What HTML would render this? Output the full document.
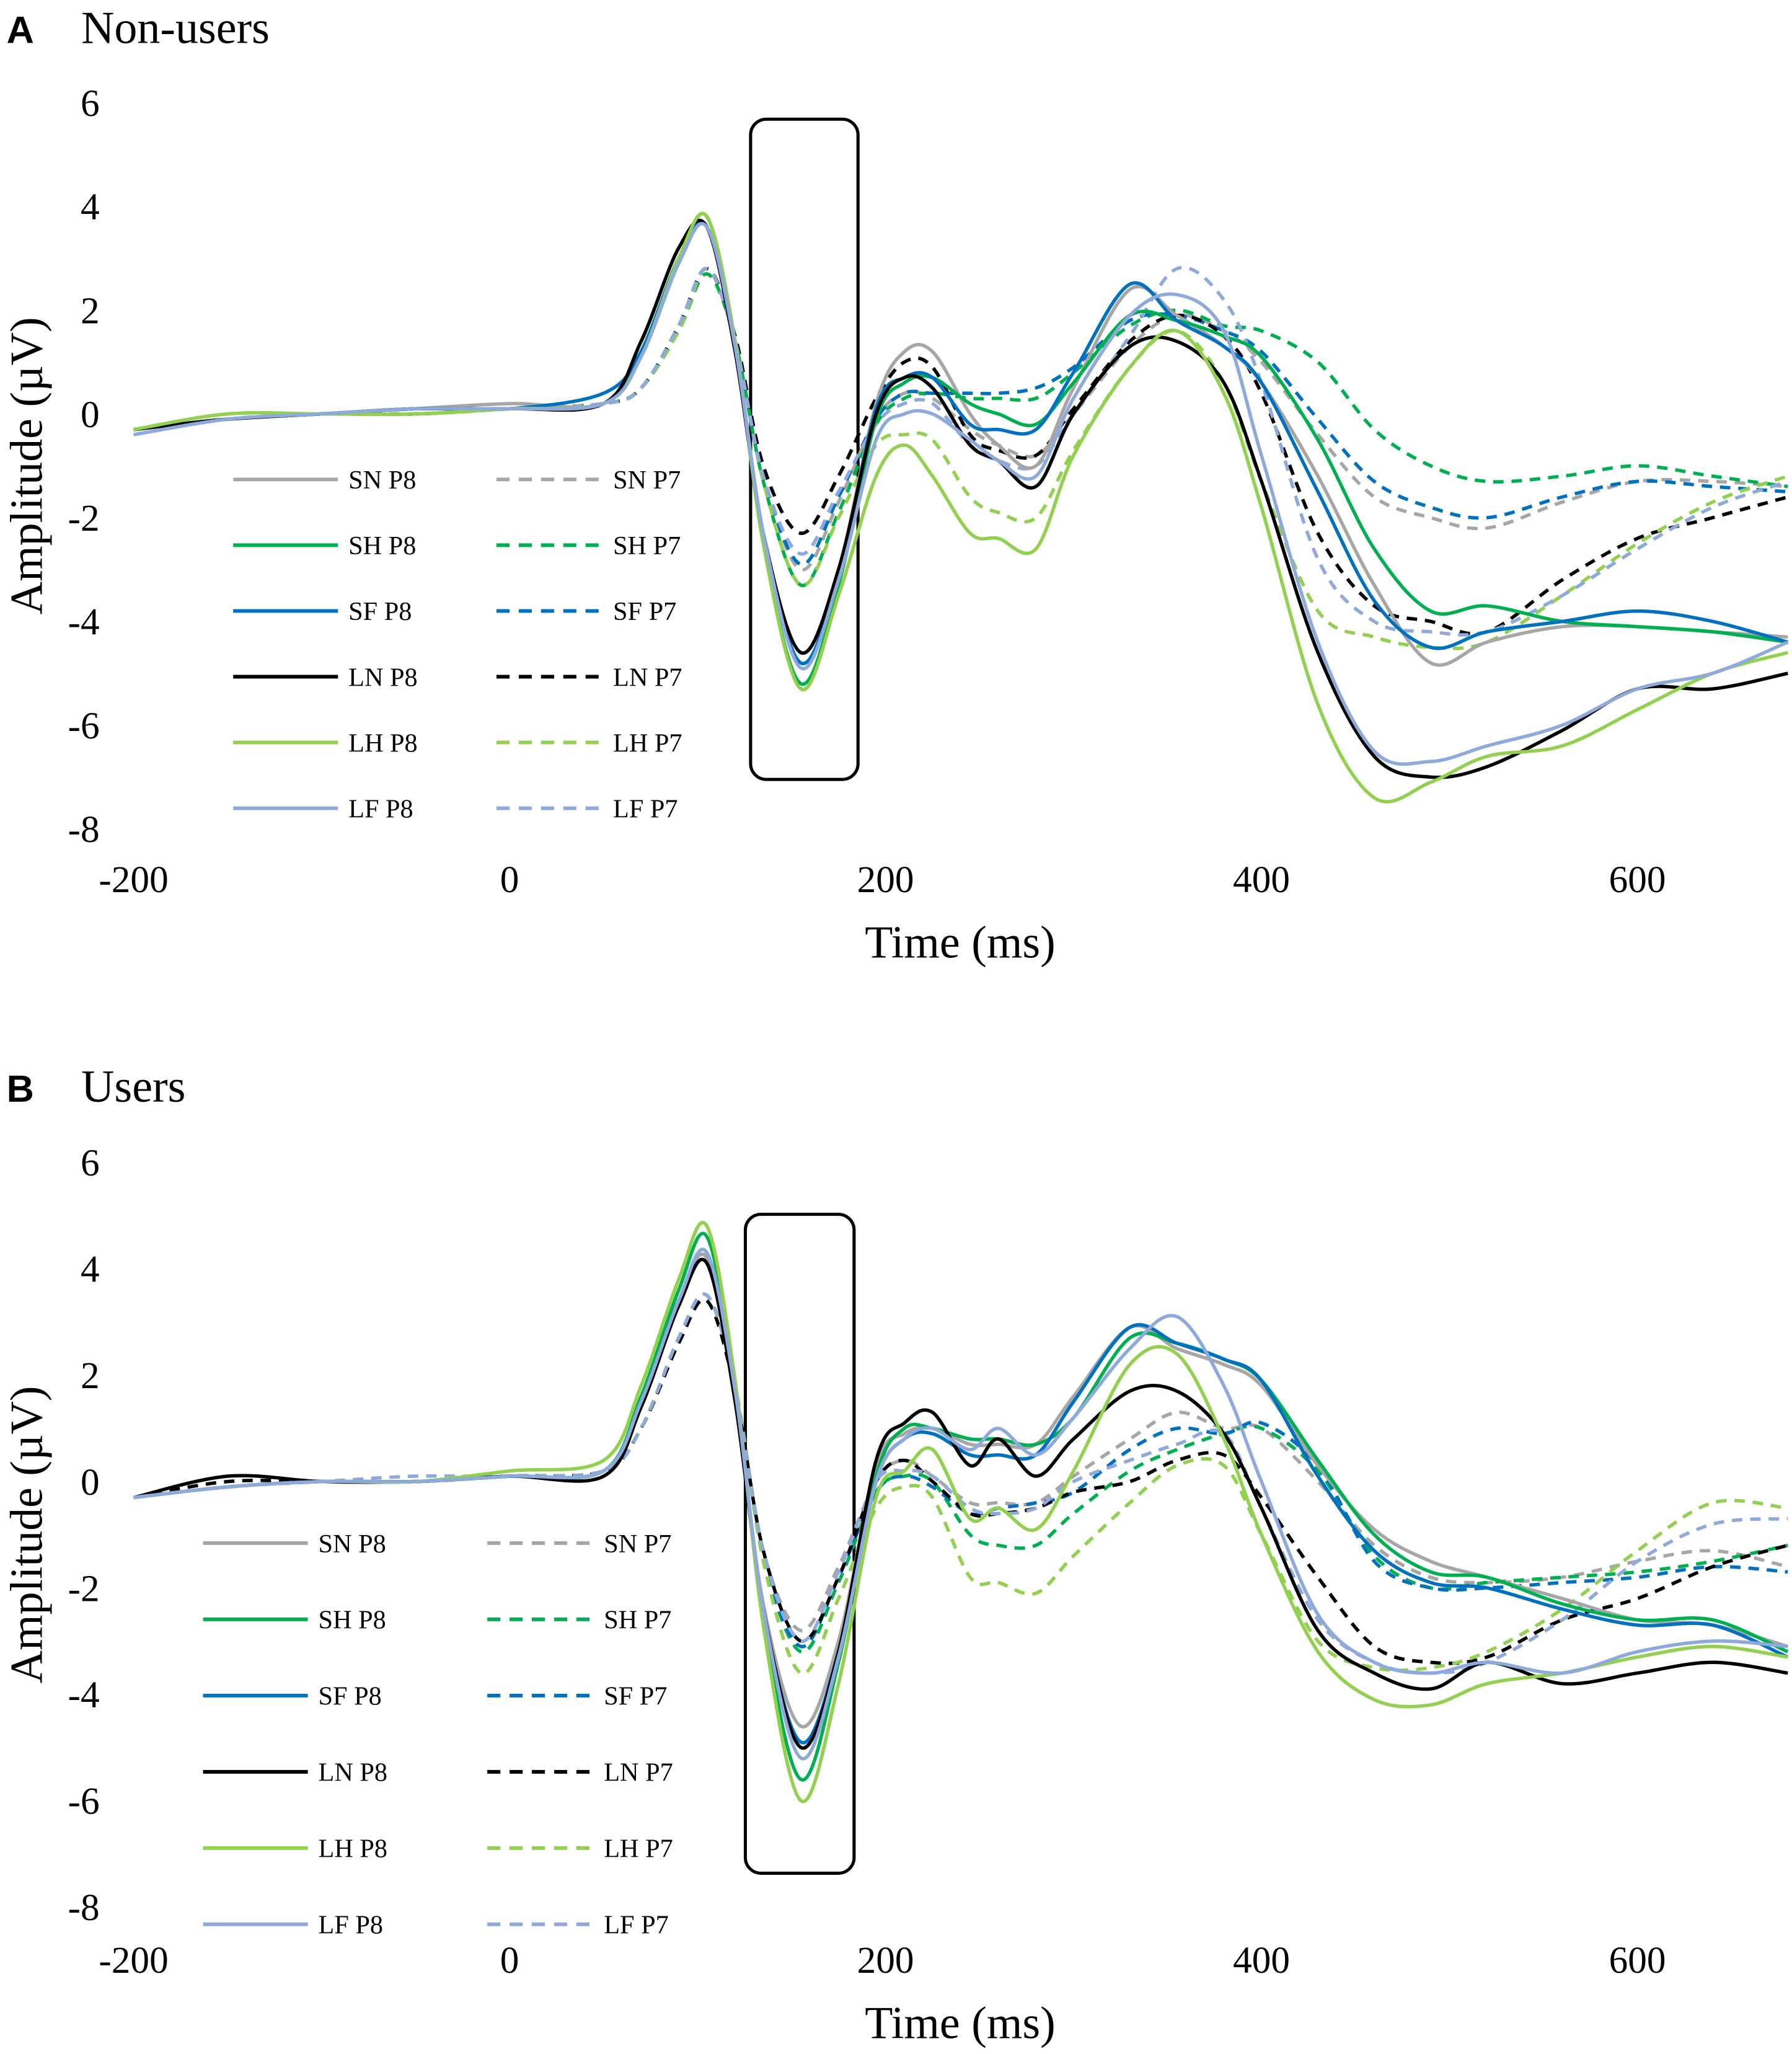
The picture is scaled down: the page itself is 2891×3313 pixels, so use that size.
<!DOCTYPE html>
<html><head><meta charset="utf-8"><style>
html,body{margin:0;padding:0;background:#fff}
svg{display:block}
text{font-family:"Liberation Serif",serif;fill:#000}
</style></head><body>
<svg id="fig" xmlns="http://www.w3.org/2000/svg" width="2891" height="3313" viewBox="0 0 1368 1568" preserveAspectRatio="none">
<g id="panelA"></g>
<g id="panelB"></g>
</svg>
<script>
const times = [-200,-150,-100,-50,0,50,70,90,105,120,135,155,175,195,210,225,245,260,280,300,330,355,380,400,430,460,490,520,560,600,640,680];
const xTicks = [-200,0,200,400,600];
const yTicks = [6,4,2,0,-2,-4,-6,-8];
const seriesNames = ["SN","SH","SF","LN","LH","LF"];
const seriesColors = ["#a6a6a6","#00b050","#0070c0","#000000","#92d050","#8eaadb"];

const aP8_SN = [-0.3,-0.1,0,0.1,0.2,0.2,1.2,3.0,3.6,1.3,-2.3,-4.6,-3.0,0.2,1.2,1.2,0.0,-0.6,-1.0,0.5,2.4,1.9,1.3,0.6,-1.2,-3.3,-4.8,-4.4,-4.1,-4.1,-4.2,-4.3];
const aP8_SH = [-0.3,-0.1,0,0.1,0.1,0.2,1.2,3.0,3.8,1.4,-2.5,-5.2,-3.3,-0.1,0.6,0.7,0.2,0.0,-0.2,0.6,1.9,1.8,1.5,1.1,-0.5,-2.6,-3.8,-3.7,-4.0,-4.1,-4.2,-4.4];
const aP8_SF = [-0.3,-0.1,0,0.1,0.1,0.4,1.2,3.0,3.6,1.3,-2.3,-4.8,-3.1,0.1,0.7,0.7,-0.2,-0.3,-0.3,0.8,2.5,1.8,1.3,0.6,-1.5,-3.6,-4.5,-4.2,-4.0,-3.8,-4.0,-4.4];
const aP8_LN = [-0.3,-0.1,0,0.1,0.1,0.2,1.4,3.2,3.6,1.2,-2.3,-4.6,-3.0,0.0,0.7,0.5,-0.6,-0.9,-1.4,0.0,1.3,1.4,0.6,-1.3,-4.6,-6.6,-7.0,-6.8,-6.1,-5.3,-5.3,-5.0];
const aP8_LH = [-0.3,0,0,0,0.1,0.2,1.1,3.0,3.8,1.4,-2.5,-5.3,-3.5,-1.2,-0.6,-1.2,-2.3,-2.4,-2.6,-0.8,0.9,1.6,0.4,-1.8,-5.6,-7.4,-7.1,-6.6,-6.4,-5.7,-5.0,-4.6];
const aP8_LF = [-0.4,-0.1,0,0.1,0.1,0.2,1.1,2.9,3.6,1.3,-2.3,-4.9,-3.2,-0.5,0.0,0.0,-0.5,-0.9,-1.2,0.3,1.9,2.3,1.6,-0.8,-4.4,-6.5,-6.7,-6.4,-6.0,-5.3,-5.0,-4.4];
const aP7_SN = [-0.3,-0.1,0,0,0.1,0.2,0.5,1.7,2.8,1.4,-1.2,-3.0,-1.7,-0.1,0.4,0.3,-0.3,-0.6,-0.8,0.0,1.3,1.9,1.6,1.0,-0.4,-1.6,-2.0,-2.2,-1.7,-1.3,-1.3,-1.4];
const aP7_SH = [-0.3,-0.1,0,0,0.1,0.2,0.5,1.6,2.7,1.4,-1.3,-3.3,-1.9,-0.2,0.3,0.4,0.3,0.3,0.3,0.8,1.7,2.0,1.7,1.6,1.0,-0.3,-1.0,-1.3,-1.2,-1.0,-1.2,-1.4];
const aP7_SF = [-0.3,-0.1,0,0,0.1,0.2,0.5,1.7,2.8,1.4,-1.2,-2.9,-1.6,-0.1,0.4,0.4,0.4,0.4,0.5,0.9,1.8,1.9,1.6,1.2,-0.1,-1.3,-1.8,-2.0,-1.6,-1.3,-1.4,-1.5];
const aP7_LN = [-0.3,-0.1,0,0,0.1,0.2,0.5,1.7,2.8,1.5,-1.0,-2.3,-1.2,0.3,1.0,0.9,-0.4,-0.7,-0.8,0.1,1.4,1.9,1.5,0.4,-2.3,-3.7,-4.0,-4.2,-3.2,-2.4,-2.0,-1.6];
const aP7_LH = [-0.3,0,0,0,0.1,0.2,0.5,1.6,2.8,1.4,-1.3,-3.3,-2.0,-0.6,-0.4,-0.5,-1.6,-1.9,-2.0,-0.7,0.9,1.6,0.6,-1.3,-3.8,-4.3,-4.5,-4.4,-3.5,-2.5,-1.7,-1.2];
const aP7_LF = [-0.4,-0.1,0,0,0.1,0.2,0.5,1.7,2.8,1.4,-1.2,-2.7,-1.5,-0.2,0.2,0.2,-0.6,-0.9,-1.0,0.0,1.5,2.8,2.2,0.6,-2.8,-4.0,-4.2,-4.2,-3.5,-2.6,-1.8,-1.3];

const bP8_SN = [-0.3,-0.1,0,0,0.1,0.2,1.5,3.4,4.2,1.6,-2.3,-4.6,-3.0,0.3,0.9,1.0,0.7,0.7,0.7,1.6,2.9,2.5,2.2,1.8,0.3,-0.9,-1.5,-1.8,-2.2,-2.6,-2.7,-3.1];
const bP8_SH = [-0.3,-0.1,0,0,0.1,0.2,1.6,3.6,4.6,1.8,-2.6,-5.6,-3.4,0.1,1.0,1.0,0.8,0.8,0.7,1.2,2.7,2.6,2.3,1.9,0.4,-1.0,-1.7,-1.8,-2.3,-2.6,-2.6,-3.2];
const bP8_SF = [-0.3,-0.1,0,0,0.1,0.2,1.5,3.4,4.3,1.7,-2.4,-4.9,-3.2,0.0,0.8,0.9,0.5,0.5,0.5,1.5,2.9,2.6,2.3,1.9,0.1,-1.3,-1.9,-2.0,-2.4,-2.7,-2.7,-3.3];
const bP8_LN = [-0.3,0.1,0,0,0.1,0.1,1.4,3.3,4.1,1.5,-2.4,-5.0,-3.2,0.4,1.1,1.3,0.3,0.8,0.1,0.8,1.7,1.7,0.9,-0.5,-2.8,-3.6,-3.9,-3.4,-3.8,-3.6,-3.4,-3.6];
const bP8_LH = [-0.3,-0.1,0,0,0.2,0.4,1.8,3.8,4.8,1.9,-2.7,-6.0,-3.8,-0.3,0.2,0.6,-0.7,-0.5,-0.9,0.2,2.2,2.4,0.8,-1.0,-3.2,-4.1,-4.2,-3.8,-3.6,-3.3,-3.1,-3.3];
const bP8_LF = [-0.3,-0.1,0,0,0.1,0.2,1.5,3.4,4.3,1.7,-2.4,-5.2,-3.3,0.0,0.8,1.0,0.6,1.0,0.5,1.2,2.5,3.1,1.8,0.0,-2.5,-3.4,-3.6,-3.4,-3.6,-3.2,-3.0,-3.1];
const bP7_SN = [-0.3,-0.1,0,0,0.1,0.2,1.0,2.7,3.5,1.8,-1.3,-2.8,-1.6,0.0,0.4,0.1,-0.4,-0.4,-0.4,0.1,0.8,1.3,1.0,1.0,0.0,-1.2,-1.8,-1.9,-1.8,-1.5,-1.3,-1.6];
const bP7_SH = [-0.3,-0.1,0,0,0.1,0.2,1.0,2.7,3.5,1.8,-1.4,-3.2,-1.9,-0.2,0.1,0.0,-1.0,-1.2,-1.2,-0.6,0.2,0.6,0.9,1.0,0.2,-1.4,-2.0,-1.9,-1.8,-1.7,-1.5,-1.2];
const bP7_SF = [-0.3,-0.1,0,0,0.1,0.2,1.0,2.7,3.5,1.8,-1.4,-3.1,-1.8,-0.2,0.1,-0.1,-0.6,-0.5,-0.4,-0.2,0.6,1.0,0.9,1.1,0.3,-1.5,-2.0,-2.0,-1.9,-1.8,-1.6,-1.7];
const bP7_LN = [-0.3,0,0,0,0.1,0.2,1.0,2.6,3.4,1.7,-1.3,-3.0,-1.8,0.0,0.4,0.0,-0.6,-0.6,-0.5,-0.2,0.0,0.4,0.5,-0.3,-1.8,-3.1,-3.4,-3.3,-2.6,-2.2,-1.6,-1.2];
const bP7_LH = [-0.3,-0.1,0,0,0.1,0.2,1.0,2.7,3.5,1.8,-1.5,-3.6,-2.2,-0.5,-0.1,-0.3,-1.8,-1.9,-2.1,-1.4,-0.4,0.3,0.3,-1.0,-3.0,-3.5,-3.5,-3.2,-2.4,-1.3,-0.4,-0.5];
const bP7_LF = [-0.3,-0.1,0,0.1,0.1,0.2,1.0,2.7,3.5,1.8,-1.3,-3.0,-1.7,0.0,0.2,0.1,-0.5,-0.6,-0.5,0.0,0.4,0.7,0.9,-0.5,-2.6,-3.4,-3.6,-3.4,-2.6,-1.5,-0.8,-0.7];

const NS = "http://www.w3.org/2000/svg";
function mk(parent, tag, attrs, txt){
  const e = document.createElementNS(NS, tag);
  for (const k in attrs) e.setAttribute(k, attrs[k]);
  if (txt !== undefined) e.textContent = txt;
  parent.appendChild(e); return e;
}
function smoothPath(pts){
  let d = "M" + pts[0][0].toFixed(1) + "," + pts[0][1].toFixed(1);
  for (let i=0;i<pts.length-1;i++){
    const p0=pts[Math.max(0,i-1)], p1=pts[i], p2=pts[i+1], p3=pts[Math.min(pts.length-1,i+2)];
    const c1x=p1[0]+(p2[0]-p0[0])/6, c1y=p1[1]+(p2[1]-p0[1])/6;
    const c2x=p2[0]-(p3[0]-p1[0])/6, c2y=p2[1]-(p3[1]-p1[1])/6;
    d += " C"+c1x.toFixed(1)+","+c1y.toFixed(1)+" "+c2x.toFixed(1)+","+c2y.toFixed(1)+" "+p2[0].toFixed(1)+","+p2[1].toFixed(1);
  }
  return d;
}
function drawPanel(g, cfg){
  const xS = t => cfg.x0 + t*cfg.xk;
  const yS = v => cfg.y0 - v*cfg.yk;
  const letter = mk(g,"text",{x:5,y:cfg.titleY,style:"font-family:'Liberation Sans',sans-serif;font-weight:bold;font-size:29px"});
  letter.textContent = cfg.letter;
  
  
  const title = mk(g,"text",{x:62,y:cfg.titleY,"font-size":35}, cfg.title);
  
  
  yTicks.forEach(v=>{
    const t = mk(g,"text",{x:76,y:yS(v)+10,"font-size":29,"text-anchor":"end"}, String(v));
    
    
  });
  xTicks.forEach(v=>{
    const t = mk(g,"text",{x:xS(v),y:cfg.xLabY,"font-size":29,"text-anchor":"middle"}, String(v));
    
    
  });
  const yl = mk(g,"text",{x:0,y:0,"font-size":35,"text-anchor":"middle",transform:"translate(32,"+yS(-1)+") rotate(-90)"}, "Amplitude (\u00b5V)");
  
  
  const xl = mk(g,"text",{x:733,y:cfg.xTitleY,"font-size":35,"text-anchor":"middle"}, "Time (ms)");
  
  
  const box = mk(g,"rect",{x:cfg.box[0],y:cfg.box[1],width:cfg.box[2],height:cfg.box[3],rx:12,fill:"none",stroke:"#000","stroke-width":2.4});
  
  
  seriesNames.forEach((nm,i)=>{
    const ly = cfg.legY0 + i*cfg.legStep;
    const l1 = mk(g,"line",{x1:cfg.legX1,x2:cfg.legX1+80,y1:ly,y2:ly,stroke:seriesColors[i],"stroke-width":2.8});
    
    
    const t1 = mk(g,"text",{x:cfg.legX1+88,y:ly+7,"font-size":20}, nm+" P8");
    
    
    const l2 = mk(g,"line",{x1:cfg.legX2,x2:cfg.legX2+80,y1:ly,y2:ly,stroke:seriesColors[i],"stroke-width":2.8,"stroke-dasharray":"10,7"});
    
    
    const t2 = mk(g,"text",{x:cfg.legX2+89,y:ly+7,"font-size":20}, nm+" P7");
    
    
  });
  const draw = (arr, i, dashed) => {
    const pts = times.map((t,k)=>[xS(t), yS(arr[k])]);
    const p = mk(g,"path",{d:smoothPath(pts),fill:"none",stroke:seriesColors[i],"stroke-width":2.6,"stroke-linejoin":"round"});
    if (dashed) p.setAttribute("stroke-dasharray","8,6");
    
    
  };
  cfg.p7.forEach((a,i)=>draw(a,i,true));
  cfg.p8.forEach((a,i)=>draw(a,i,false));
}
drawPanel(document.getElementById("panelA"), {
  letter:"A", title:"Non-users", titleY:33, x0:389, xk:1.435, y0:316, yk:39.6,
  xLabY:681, xTitleY:731, box:[573,91,82,504],
  legX1:178, legX2:379, legY0:366, legStep:50.2,
  p8:[aP8_SN,aP8_SH,aP8_SF,aP8_LN,aP8_LH,aP8_LF],
  p7:[aP7_SN,aP7_SH,aP7_SF,aP7_LN,aP7_LH,aP7_LF]
});
drawPanel(document.getElementById("panelB"), {
  letter:"B", title:"Users", titleY:841, x0:389, xk:1.435, y0:1131, yk:40.6,
  xLabY:1506, xTitleY:1556, box:[569,927,83,503],
  legX1:155, legX2:372, legY0:1178, legStep:58.2,
  p8:[bP8_SN,bP8_SH,bP8_SF,bP8_LN,bP8_LH,bP8_LF],
  p7:[bP7_SN,bP7_SH,bP7_SF,bP7_LN,bP7_LH,bP7_LF]
});
</script>
</body></html>
